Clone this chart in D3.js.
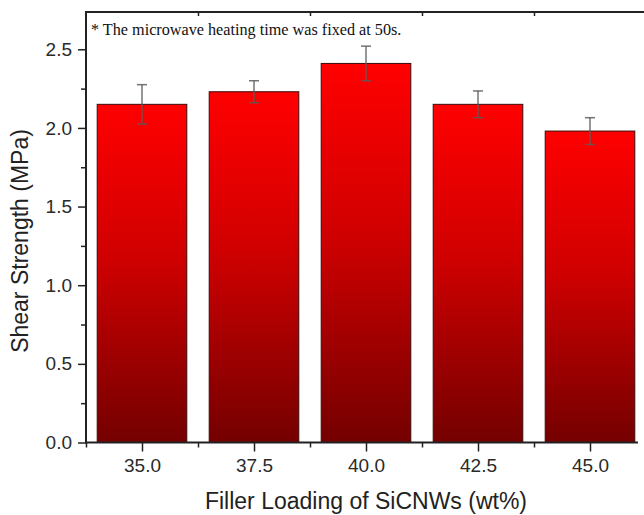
<!DOCTYPE html>
<html>
<head>
<meta charset="utf-8">
<script src="https://cdn.jsdelivr.net/npm/d3@7"></script>
<style>
  html, body { margin: 0; padding: 0; background: #fff; }
  svg { display: block; }
</style>
</head>
<body>
<svg width="644" height="515"></svg>
<script>
// values
const loadings = [35.0, 37.5, 40.0, 42.5, 45.0]
const strength = [2.15, 2.23, 2.41, 2.15, 1.98]
const errors = [0.125, 0.07, 0.11, 0.085, 0.085]
const yTicks = [0, 0.5, 1.0, 1.5, 2.0, 2.5]
const yMinor = [0.25, 0.75, 1.25, 1.75, 2.25]
const xMinor = [33.75, 36.25, 38.75, 41.25, 43.75, 46.25]
const note = '* The microwave heating time was fixed at 50s.'

const svg = d3.select('svg')
const plot = {left: 86, right: 646, top: 12, bottom: 442.5}
const axisColor = '#222'

const x = d3.scaleLinear().domain([33.75, 46.25]).range([plot.left, plot.right])
const y = d3.scaleLinear().domain([0, 2.737]).range([plot.bottom, plot.top])
const barW = 0.8 * (x(37.5) - x(35.0))

// gradient for bars
const grad = svg.append('defs').append('linearGradient')
  .attr('id', 'barGrad')
  .attr('x1', 0).attr('y1', 0).attr('x2', 0).attr('y2', 1)
grad.append('stop').attr('offset', '0%').attr('stop-color', '#ff0000')
grad.append('stop').attr('offset', '45%').attr('stop-color', '#d00000')
grad.append('stop').attr('offset', '100%').attr('stop-color', '#740000')

// bars
svg.append('g').selectAll('rect')
  .data(loadings)
  .enter().append('rect')
    .attr('x', d => x(d) - barW / 2)
    .attr('y', (d, i) => y(strength[i]))
    .attr('width', barW)
    .attr('height', (d, i) => y(0) - y(strength[i]))
    .attr('fill', 'url(#barGrad)')
    .attr('stroke', '#3a0a0a')
    .attr('stroke-width', 1)

// error bars
const err = svg.append('g')
  .attr('stroke', '#5a5a5a')
  .attr('stroke-width', 1.5)
  .attr('stroke-opacity', 0.85)
loadings.forEach((d, i) => {
  const hi = y(strength[i] + errors[i]), lo = y(strength[i] - errors[i])
  err.append('line').attr('x1', x(d)).attr('x2', x(d)).attr('y1', hi).attr('y2', lo)
  err.append('line').attr('x1', x(d) - 5).attr('x2', x(d) + 5).attr('y1', hi).attr('y2', hi)
  err.append('line').attr('x1', x(d) - 5).attr('x2', x(d) + 5).attr('y1', lo).attr('y2', lo)
})

// y axis
const yAxis = svg.append('g')
  .attr('transform', 'translate(' + plot.left + ',0)')
  .call(d3.axisLeft(y).tickValues(yTicks).tickFormat(d3.format('.1f')).tickSize(8).tickPadding(6))
yAxis.select('.domain').remove()
yAxis.selectAll('line').attr('stroke', axisColor).attr('stroke-width', 1.5)
yAxis.selectAll('text')
  .attr('font-family', 'Liberation Sans, Arial, sans-serif')
  .attr('font-size', 19)
  .attr('fill', '#2a2a2a')

svg.append('g')
  .attr('transform', 'translate(' + plot.left + ',0)')
  .call(d3.axisLeft(y).tickValues(yMinor).tickFormat('').tickSize(5))
  .call(g => g.select('.domain').remove())
  .selectAll('line').attr('stroke', axisColor).attr('stroke-width', 1.5)

// x axis
const xAxis = svg.append('g')
  .attr('transform', 'translate(0,' + plot.bottom + ')')
  .call(d3.axisBottom(x).tickValues(loadings).tickFormat(d3.format('.1f')).tickSize(9).tickPadding(7))
xAxis.select('.domain').remove()
xAxis.selectAll('line').attr('stroke', axisColor).attr('stroke-width', 1.5)
xAxis.selectAll('text')
  .attr('font-family', 'Liberation Sans, Arial, sans-serif')
  .attr('font-size', 19)
  .attr('fill', '#2a2a2a')

svg.append('g')
  .attr('transform', 'translate(0,' + plot.bottom + ')')
  .call(d3.axisBottom(x).tickValues(xMinor).tickFormat('').tickSize(5))
  .call(g => g.select('.domain').remove())
  .selectAll('line').attr('stroke', axisColor).attr('stroke-width', 1.5)

// top axis, small inward ticks
svg.append('g')
  .attr('transform', 'translate(0,' + plot.top + ')')
  .call(d3.axisBottom(x).tickValues(xMinor.slice(1, 5)).tickFormat('').tickSize(4))
  .call(g => g.select('.domain').remove())
  .selectAll('line').attr('stroke', axisColor).attr('stroke-width', 1.5)

// frame
svg.append('path')
  .attr('d', 'M' + plot.right + ',' + plot.top + 'H' + plot.left + 'V' + plot.bottom + 'H' + (plot.right - 8))
  .attr('fill', 'none')
  .attr('stroke', axisColor)
  .attr('stroke-width', 2)

// titles
svg.append('text')
  .attr('x', (plot.left + plot.right) / 2)
  .attr('y', 509)
  .attr('text-anchor', 'middle')
  .attr('font-family', 'Liberation Sans, Arial, sans-serif')
  .attr('font-size', 23)
  .attr('fill', '#222')
  .text('Filler Loading of SiCNWs (wt%)')

svg.append('text')
  .attr('transform', 'translate(28,241) rotate(-90)')
  .attr('text-anchor', 'middle')
  .attr('font-family', 'Liberation Sans, Arial, sans-serif')
  .attr('font-size', 23)
  .attr('fill', '#222')
  .text('Shear Strength (MPa)')

svg.append('text')
  .attr('x', 91)
  .attr('y', 35)
  .attr('font-family', 'Liberation Serif, Times New Roman, serif')
  .attr('font-size', 16.2)
  .attr('fill', '#111')
  .text(note)
</script>
</body>
</html>
